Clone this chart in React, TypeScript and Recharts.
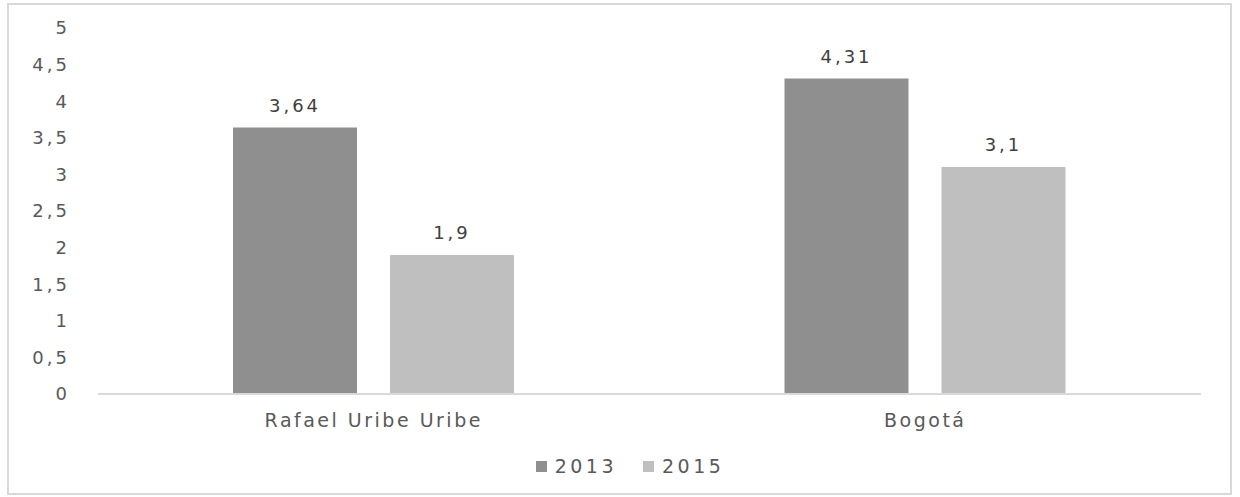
import { BarChart, Bar, XAxis, YAxis, Legend, LabelList } from "recharts";

const categories = ["Rafael Uribe Uribe", "Bogotá"];
const values2013 = [3.64, 4.31];
const values2015 = [1.9, 3.1];
const yTicks = [0, 0.5, 1, 1.5, 2, 2.5, 3, 3.5, 4, 4.5, 5];

const series = [
  { key: "y2013", name: "2013", color: "#8f8f8f" },
  { key: "y2015", name: "2015", color: "#bfbfbf" },
];

const data = categories.map((c, i) => ({
  name: c,
  y2013: values2013[i],
  y2015: values2015[i],
}));

const FONT = "'DejaVu Sans', Verdana, sans-serif";
const comma = (v: number | string) => String(v).replace(".", ",");

function LegendContent() {
  return (
    <div style={{ display: "flex", justifyContent: "center", gap: 26, fontFamily: FONT, fontSize: 19, letterSpacing: 3.5, color: "#595959", height: 22 }}>
      {series.map(s => (
        <div key={s.key} style={{ display: "flex", alignItems: "center" }}>
          <span style={{ width: 11, height: 11, background: s.color, display: "inline-block", marginRight: 8 }} />
          <span>{s.name}</span>
        </div>
      ))}
    </div>
  );
}

export default function App() {
  return (
    <div style={{ position: "absolute", left: 0, top: 0, width: 1240, height: 497, background: "#fff" }}>
      <div style={{ position: "absolute", left: 7, top: 3, width: 1221, height: 488, border: "2px solid #d9d9d9" }} />
      <div style={{ position: "absolute", left: 0, top: 0 }}>
        <BarChart
          width={1240}
          height={497}
          data={data}
          margin={{ top: 28, right: 39, left: 0, bottom: 0 }}
          barGap={33}
          barSize={124}
          style={{ fontFamily: FONT }}
        >
          <XAxis
            dataKey="name"
            height={81}
            axisLine={{ stroke: "#d9d9d9", strokeWidth: 2 }}
            tickLine={false}
            tickMargin={14}
            tick={{ fill: "#595959", fontSize: 19, letterSpacing: 2.5 }}
          />
          <YAxis
            width={98}
            domain={[0, 5]}
            ticks={yTicks}
            interval={0}
            axisLine={false}
            tickLine={false}
            tickMargin={22}
            tickFormatter={comma}
            tick={{ fill: "#595959", fontSize: 18, letterSpacing: 3 }}
          />
          <Legend
            verticalAlign="bottom"
            content={<LegendContent />}
            wrapperStyle={{ position: "absolute", top: 455, left: 0, width: 1260, bottom: "auto" }}
          />
          {series.map(s => (
            <Bar key={s.key} dataKey={s.key} name={s.name} fill={s.color} isAnimationActive={false}>
              <LabelList
                dataKey={s.key}
                position="top"
                offset={16}
                formatter={comma}
                style={{ fill: "#404040", fontSize: 18, letterSpacing: 3 }}
              />
            </Bar>
          ))}
        </BarChart>
      </div>
    </div>
  );
}
